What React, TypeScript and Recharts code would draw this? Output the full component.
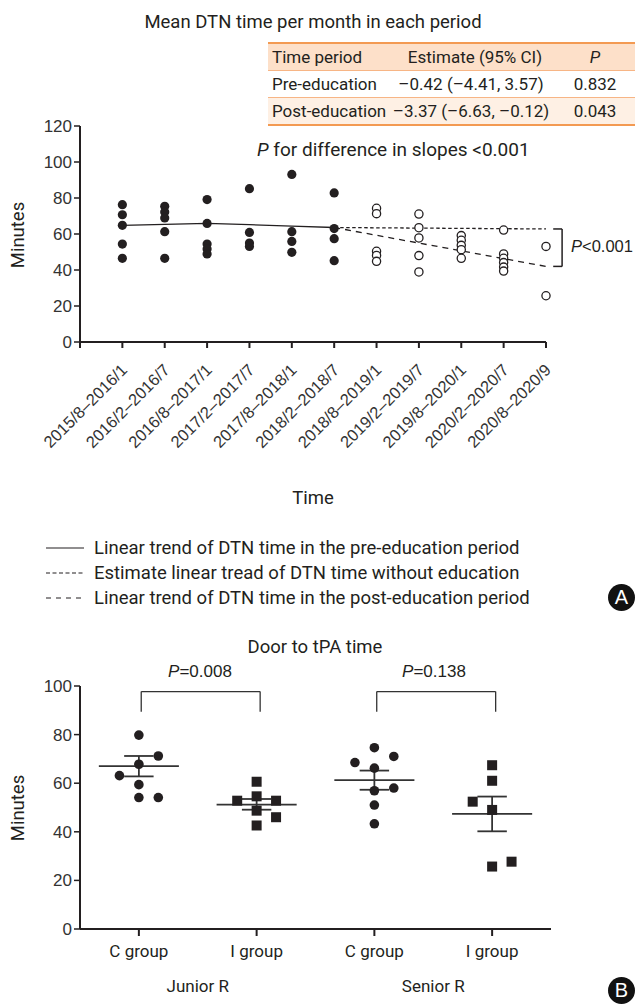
import React from "react";
import { ComposedChart, Scatter, Line, XAxis, YAxis, ReferenceLine } from "recharts";

// ---------- Panel A data ----------
const periods = [
  "2015/8–2016/1", "2016/2–2016/7", "2016/8–2017/1", "2017/2–2017/7",
  "2017/8–2018/1", "2018/2–2018/7", "2018/8–2019/1", "2019/2–2019/7",
  "2019/8–2020/1", "2020/2–2020/7", "2020/8–2020/9",
];
const preEducationValues: number[][] = [
  [76.3, 70.7, 64.8, 54.4, 46.5],
  [75.4, 72.2, 68.9, 61.3, 46.5],
  [79.1, 65.9, 54.4, 51.7, 48.9],
  [85.2, 60.9, 55.0, 53.1],
  [93.1, 61.3, 55.9, 49.8],
  [82.8, 63.0, 57.4, 45.2],
];
const postEducationValues: number[][] = [
  [74.3, 71.3, 50.4, 48.1, 44.8],
  [71.1, 63.5, 57.8, 48.0, 38.9],
  [59.1, 56.5, 53.7, 51.3, 46.5],
  [62.2, 48.9, 46.5, 44.1, 41.6, 39.4],
  [53.1, 25.7],
];
const preTrend = [64.8, 65.3, 65.9, 65.2, 64.4, 63.6]; // periods 1..6
const noEducationTrend = [63.6, 62.8]; // periods 6 and 11
const postTrend = [63.6, 42.0]; // periods 6 and 11
const topYTicks = [0, 20, 40, 60, 80, 100, 120];

const tableHeader = ["Time period", "Estimate (95% CI)", "P"];
const tableRows = [
  ["Pre-education", "–0.42 (–4.41, 3.57)", "0.832"],
  ["Post-education", "–3.37 (–6.63, –0.12)", "0.043"],
];
const legendLabels = [
  "Linear trend of DTN time in the pre-education period",
  "Estimate linear tread of DTN time without education",
  "Linear trend of DTN time in the post-education period",
];

// ---------- Panel B data ----------
const groupLabels = ["C group", "I group", "C group", "I group"];
const residentLabels = ["Junior R", "Senior R"];
const juniorC = [79.8, 71.2, 67.8, 63.1, 59.4, 54.1, 54.1];
const juniorCSlot = [0, 1, 0, -1, 0, 0, 1];
const juniorI = [60.6, 54.6, 52.8, 52.8, 48.7, 46.0, 42.6];
const juniorISlot = [0, 0, -1, 1, 0, 1, 0];
const seniorC = [74.6, 71.0, 68.5, 66.2, 58.0, 56.9, 51.0, 43.3];
const seniorCSlot = [0, 1, -1, 0, 1, 0, 0, 0];
const seniorI = [67.4, 61.0, 52.4, 49.0, 27.7, 25.7];
const seniorISlot = [0, 0, -1, 0, 1, 0];
const groupMean = [67.0, 51.2, 61.3, 47.4];
const groupSemLow = [62.8, 49.1, 57.3, 40.2];
const groupSemHigh = [71.2, 53.5, 65.2, 54.5];
const comparisonP = ["0.008", "0.138"];
const bottomYTicks = [0, 20, 40, 60, 80, 100];

// ---------- styles ----------
const HUM = "Roboto, 'Noto Sans', sans-serif";
const GP = "'Liberation Sans', Arial, sans-serif";
const INK = "#231f20";
const AX = "#333";

// ---------- derived series ----------
const prePoints = preEducationValues.flatMap((vals, i) => vals.map((v) => ({ x: i + 1, y: v })));
const postPoints = postEducationValues.flatMap((vals, i) =>
  vals.map((v) => ({ x: i + preEducationValues.length + 1, y: v }))
);
const preTrendData = preTrend.map((v, i) => ({ x: i + 1, y: v }));
const lastPre = preEducationValues.length;
const lastPeriod = periods.length;
const noEduData = [
  { x: lastPre, y: noEducationTrend[0] },
  { x: lastPeriod, y: noEducationTrend[1] },
];
const postTrendData = [
  { x: lastPre, y: postTrend[0] },
  { x: lastPeriod, y: postTrend[1] },
];

const SPREAD = 0.165;
const mk = (vals: number[], slots: number[], g: number) =>
  vals.map((v, i) => ({ x: g + slots[i] * SPREAD, y: v }));
const circlePoints = [...mk(juniorC, juniorCSlot, 1), ...mk(seniorC, seniorCSlot, 3)];
const squarePoints = [...mk(juniorI, juniorISlot, 2), ...mk(seniorI, seniorISlot, 4)];

const FilledDot = (p: any) => <circle cx={p.cx} cy={p.cy} r={4.6} fill={INK} />;
const OpenDot = (p: any) => <circle cx={p.cx} cy={p.cy} r={4.1} fill="#fff" stroke={INK} strokeWidth={1.3} />;
const BigDot = (p: any) => <circle cx={p.cx} cy={p.cy} r={4.8} fill={INK} />;
const Square = (p: any) => <rect x={p.cx - 5} y={p.cy - 5} width={10} height={10} fill={INK} />;

const TopTick = (props: any) => {
  const { x, y, payload } = props;
  const i = payload.value;
  if (i < 1 || i > periods.length) return null;
  const ax = x + 6;
  const ay = y + 21;
  return (
    <text
      x={ax}
      y={ay}
      transform={`rotate(-45 ${ax} ${ay})`}
      textAnchor="end"
      fontSize={16.5}
      fontFamily={GP}
      fill={AX}
    >
      {periods[i - 1]}
    </text>
  );
};

const BottomTick = (props: any) => {
  const { x, y, payload } = props;
  const v = payload.value;
  if (Number.isInteger(v)) {
    return (
      <g>
        <line x1={x} y1={y - 8} x2={x} y2={y - 1} stroke={INK} strokeWidth={2} />
        <text x={x} y={y + 20} textAnchor="middle" fontSize={17} fontFamily={HUM} fill={INK}>
          {groupLabels[v - 1]}
        </text>
      </g>
    );
  }
  return (
    <text x={x} y={y + 55} textAnchor="middle" fontSize={17} fontFamily={HUM} fill={INK}>
      {residentLabels[Math.floor(v) === 1 ? 0 : 1]}
    </text>
  );
};

const abs = (o: React.CSSProperties): React.CSSProperties => ({ position: "absolute", whiteSpace: "nowrap", ...o });

const Badge = ({ letter, top }: { letter: string; top: number }) => (
  <div
    style={abs({
      left: 608,
      top,
      width: 27,
      height: 27,
      borderRadius: "50%",
      background: "#111",
      color: "#fff",
      fontFamily: GP,
      fontSize: 20,
      lineHeight: "27px",
      textAlign: "center",
    })}
  >
    {letter}
  </div>
);

export default function App() {
  const legendDash = [undefined, "4 2.5", "5 5"];
  return (
    <div
      style={{
        position: "absolute",
        left: 0,
        top: 0,
        width: 635,
        height: 1006,
        background: "#fff",
        overflow: "hidden",
        fontFamily: HUM,
        color: INK,
      }}
    >
      {/* Panel A title */}
      <div style={abs({ left: 0, width: 626, top: 11, textAlign: "center", fontSize: 18.5 })}>
        Mean DTN time per month in each period
      </div>

      {/* Table */}
      <div style={abs({ left: 268, top: 42, width: 367, fontSize: 17 })}>
        <div style={{ borderTop: "2px solid #f39a52", background: "#fde0c9", height: 26, position: "relative" }}>
          <span style={abs({ left: 4, top: 3 })}>{tableHeader[0]}</span>
          <span style={abs({ left: 207 - 80, width: 160, top: 3, textAlign: "center" })}>{tableHeader[1]}</span>
          <span style={abs({ left: 307, width: 40, top: 3, textAlign: "center", fontStyle: "italic" })}>{tableHeader[2]}</span>
        </div>
        {tableRows.map((r, i) => (
          <div
            key={i}
            style={{
              borderTop: "1px solid #f7b585",
              background: i === 1 ? "#fef0e4" : "#fff",
              height: 26,
              position: "relative",
              borderBottom: i === tableRows.length - 1 ? "2px solid #f39a52" : undefined,
            }}
          >
            <span style={abs({ left: 4, top: 3 })}>{r[0]}</span>
            <span style={abs({ left: 203 - 85, width: 170, top: 3, textAlign: "center" })}>{r[1]}</span>
            <span style={abs({ left: 302, width: 50, top: 3, textAlign: "center" })}>{r[2]}</span>
          </div>
        ))}
      </div>

      <div style={abs({ left: 257, top: 138, fontSize: 19 })}>
        <i>P</i> for difference in slopes &lt;0.001
      </div>

      {/* Panel A chart */}
      <div style={abs({ left: 0, top: 0 })}>
        <ComposedChart width={635} height={470} margin={{ top: 126, right: 89, left: 40, bottom: 18 }}>
          <XAxis
            type="number"
            dataKey="x"
            domain={[0, lastPeriod]}
            ticks={Array.from({ length: lastPeriod + 1 }, (_, i) => i)}
            interval={0}
            height={110}
            axisLine={{ stroke: INK, strokeWidth: 2 }}
            tickLine={{ stroke: INK, strokeWidth: 2 }}
            tickSize={6}
            tick={<TopTick />}
          />
          <YAxis
            type="number"
            dataKey="y"
            domain={[0, 120]}
            ticks={topYTicks}
            interval={0}
            width={40}
            axisLine={{ stroke: INK, strokeWidth: 2 }}
            tickLine={{ stroke: INK, strokeWidth: 1.5 }}
            tickSize={6}
            tick={{ fontSize: 17, fontFamily: GP, fill: AX }}
          />
          <Line data={preTrendData} dataKey="y" type="linear" stroke={INK} strokeWidth={1.3} dot={false} isAnimationActive={false} />
          <Line data={noEduData} dataKey="y" type="linear" stroke={INK} strokeWidth={1.3} strokeDasharray="3.5 2.5" dot={false} isAnimationActive={false} />
          <Line data={postTrendData} dataKey="y" type="linear" stroke={INK} strokeWidth={1.3} strokeDasharray="6 5" dot={false} isAnimationActive={false} />
          <Scatter data={prePoints} shape={FilledDot} isAnimationActive={false} />
          <Scatter data={postPoints} shape={OpenDot} isAnimationActive={false} />
          <ReferenceLine
            segment={[{ x: lastPeriod + 0.17, y: noEducationTrend[1] }, { x: lastPeriod + 0.38, y: noEducationTrend[1] }]}
            stroke={INK}
            strokeWidth={1.5}
            ifOverflow="visible"
          />
          <ReferenceLine
            segment={[{ x: lastPeriod + 0.38, y: noEducationTrend[1] }, { x: lastPeriod + 0.38, y: postTrend[1] }]}
            stroke={INK}
            strokeWidth={1.5}
            ifOverflow="visible"
          />
          <ReferenceLine
            segment={[{ x: lastPeriod + 0.17, y: postTrend[1] }, { x: lastPeriod + 0.38, y: postTrend[1] }]}
            stroke={INK}
            strokeWidth={1.5}
            ifOverflow="visible"
          />
        </ComposedChart>
      </div>

      <div style={abs({ left: 571, top: 237, fontSize: 16.5, fontFamily: GP })}>
        <i>P</i>&lt;0.001
      </div>

      {/* Y title A */}
      <div style={abs({ left: 18, top: 235, transform: "translate(-50%, -50%) rotate(-90deg)", fontSize: 18.5 })}>
        Minutes
      </div>
      <div style={abs({ left: 313, top: 498, transform: "translate(-50%, -50%)", fontSize: 18.5 })}>Time</div>

      {/* Legend */}
      {legendLabels.map((t, i) => (
        <div key={i} style={abs({ left: 46, top: 536 + i * 25, height: 24, display: "flex", alignItems: "center", fontSize: 18.5 })}>
          <svg width={40} height={4} style={{ marginRight: 8 }}>
            <line x1={0} y1={2} x2={38} y2={2} stroke={INK} strokeWidth={1.2} strokeDasharray={legendDash[i]} />
          </svg>
          {t}
        </div>
      ))}
      <Badge letter="A" top={584} />

      {/* Panel B */}
      <div style={abs({ left: 0, width: 630, top: 636, textAlign: "center", fontSize: 18.5 })}>Door to tPA time</div>

      <div style={abs({ left: 0, top: 600 })}>
        <ComposedChart width={635} height={406} margin={{ top: 86, right: 84, left: 40, bottom: 7 }}>
          <XAxis
            type="number"
            dataKey="x"
            domain={[0.5, 4.5]}
            ticks={[1, 1.5, 2, 3, 3.5, 4]}
            interval={0}
            height={70}
            axisLine={{ stroke: INK, strokeWidth: 2 }}
            tickLine={false}
            tickSize={6}
            tickMargin={2}
            tick={<BottomTick />}
          />
          <YAxis
            type="number"
            dataKey="y"
            domain={[0, 100]}
            ticks={bottomYTicks}
            interval={0}
            width={40}
            axisLine={{ stroke: INK, strokeWidth: 2 }}
            tickLine={{ stroke: INK, strokeWidth: 1.5 }}
            tickSize={6}
            tick={{ fontSize: 17, fontFamily: GP, fill: AX }}
          />
          <Scatter data={circlePoints} shape={BigDot} isAnimationActive={false} />
          <Scatter data={squarePoints} shape={Square} isAnimationActive={false} />
          {groupMean.map((m, i) => {
            const g = i + 1;
            return (
              <React.Fragment key={i}>
                <ReferenceLine segment={[{ x: g - 0.34, y: m }, { x: g + 0.34, y: m }]} stroke={AX} strokeWidth={1.8} ifOverflow="visible" />
                <ReferenceLine segment={[{ x: g, y: groupSemLow[i] }, { x: g, y: groupSemHigh[i] }]} stroke={AX} strokeWidth={1.8} ifOverflow="visible" />
                <ReferenceLine segment={[{ x: g - 0.125, y: groupSemLow[i] }, { x: g + 0.125, y: groupSemLow[i] }]} stroke={AX} strokeWidth={1.8} ifOverflow="visible" />
                <ReferenceLine segment={[{ x: g - 0.125, y: groupSemHigh[i] }, { x: g + 0.125, y: groupSemHigh[i] }]} stroke={AX} strokeWidth={1.8} ifOverflow="visible" />
              </React.Fragment>
            );
          })}
          {comparisonP.map((p, i) => {
            const a = 2 * i + 1.02;
            const b = 2 * i + 2.03;
            return (
              <React.Fragment key={p}>
                <ReferenceLine segment={[{ x: a, y: 89.4 }, { x: a, y: 97.7 }]} stroke={AX} strokeWidth={1.3} ifOverflow="visible" />
                <ReferenceLine segment={[{ x: a, y: 97.7 }, { x: b, y: 97.7 }]} stroke={AX} strokeWidth={1.3} ifOverflow="visible" />
                <ReferenceLine segment={[{ x: b, y: 89.4 }, { x: b, y: 97.7 }]} stroke={AX} strokeWidth={1.3} ifOverflow="visible" />
              </React.Fragment>
            );
          })}
        </ComposedChart>
      </div>

      {comparisonP.map((p, i) => (
        <div
          key={p}
          style={abs({ left: i === 0 ? 200 : 434, top: 672, transform: "translate(-50%, -50%)", fontSize: 17, fontFamily: GP })}
        >
          <i>P</i>={p}
        </div>
      ))}

      <div style={abs({ left: 18, top: 808, transform: "translate(-50%, -50%) rotate(-90deg)", fontSize: 18.5 })}>
        Minutes
      </div>
      <Badge letter="B" top={977} />
    </div>
  );
}
